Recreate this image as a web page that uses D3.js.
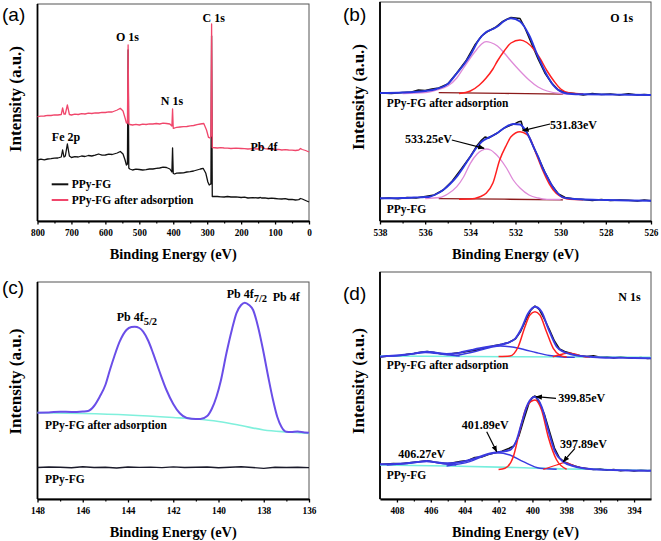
<!DOCTYPE html>
<html><head><meta charset="utf-8">
<script src="https://cdn.jsdelivr.net/npm/d3@7"></script>
<style>body{margin:0;background:#fff}svg{display:block}</style>
</head><body>
<svg id="chart" width="661" height="541"></svg>
<script>
// ---------- DATA ----------
// (a) survey spectra  [binding energy eV, intensity a.u.]
const surveyTicks = [800,700,600,500,400,300,200,100,0];
const surveyMinor = [750,650,550,450,350,250,150,50];
const surveyBlack = [[800,61],[790,61.8],[780,61.2],[770,62],[760,62.3],[750,62.8],[740,63],[730,64],[726,71],[722,64],[718,65],[712,77],[706,65],[700,63.5],[690,64.3],[680,64],[670,65],[660,64.5],[650,65.5],[640,65],[630,65.8],[620,67],[610,65.8],[600,66],[590,66.8],[580,66.5],[565,68],[556,69.5],[548,67],[542,61],[538,56],[535,57],[533,171],[531,53],[528,52],[520,51],[510,51.8],[500,51.5],[490,51],[480,51.3],[470,52],[460,52],[450,52.6],[440,53],[430,53.8],[420,53.5],[410,52],[404,49],[402,73],[400,47.5],[396,47],[390,47.8],[380,48],[370,48.2],[360,49],[350,49.3],[340,50],[330,51],[320,52],[312,52.7],[304,47.7],[298,39],[294,36],[290,37],[289,37],[287,185],[285,24.5],[270,24.5],[260,24.2],[250,24],[240,24.5],[230,24],[215,24.2],[200,23.5],[190,23.8],[180,23],[165,23.4],[150,23],[143,23.5],[140,23],[130,23.2],[120,22.5],[110,22.8],[100,22.5],[90,22.2],[80,22],[70,22.3],[60,21.5],[50,21.6],[40,21],[30,21.4],[25,22.5],[20,22],[10,20.5],[0,19]];
const surveyRed = [[800,104.3],[790,104.8],[780,105],[770,105.6],[760,105.5],[750,106.2],[740,106],[730,106.5],[726,113],[722,107],[718,107],[712,116],[706,106.5],[700,106],[690,106.8],[680,106.5],[670,107.3],[660,107],[650,107.8],[640,107.5],[630,108.2],[620,108],[610,108.7],[600,108.5],[590,109.2],[580,109],[565,111],[556,112.7],[548,110],[542,103],[538,98],[535,98],[533,176],[531,97],[528,96.5],[520,96],[510,96.6],[500,96],[490,96.8],[480,96.5],[470,97.2],[460,97],[450,97.5],[440,97],[430,97.8],[420,97.5],[410,97],[404,95],[402,112],[400,92.7],[396,93],[390,93.6],[380,94],[370,94.4],[360,94.5],[350,95.2],[340,95.5],[330,96.4],[320,97],[310,97.5],[302,91],[296,83.5],[292,83],[289,85],[287,197],[285,73.5],[270,73],[260,73.3],[250,73],[240,72.8],[230,72.5],[215,72.8],[200,72.5],[190,72.3],[180,72],[165,72.3],[150,72],[145,73.3],[143,75],[140,74],[130,72.3],[120,72],[110,71.8],[100,71.5],[90,71.6],[80,71],[70,71.3],[60,71],[50,70.8],[40,70.5],[30,71],[25,72.5],[20,71.5],[10,70.5],[0,69]];
const surveySeries = ["PPy-FG","PPy-FG after adsorption"];

// (b) O 1s
const o1sTicks = [538,536,534,532,530,528,526];
const o1sMinor = [537,535,533,531,529,527];
const o1sUpData = [[538,128],[537.5,127.5],[537,128.5],[536.6,129],[536.3,131],[536,130.5],[535.7,132],[535.4,133],[535,137],[534.6,148],[534.2,160],[533.8,176],[533.5,185],[533.2,190],[532.9,193.5],[532.6,199],[532.4,201.5],[532.2,203.5],[532,203],[531.8,202.5],[531.6,194],[531.3,178],[531,162],[530.7,148],[530.4,138],[530.1,131],[529.8,128.5],[529.4,127.5],[529,126],[528.6,127.5],[528.2,126.5],[527.8,127],[527.4,126],[527,127.3],[526.6,126],[526.3,126.5],[526,126]];
const o1sUpFit = [[538,128],[537,128.5],[536.5,129],[536,130],[535.5,132],[535,137],[534.6,147.7],[534.3,156],[534,166],[533.6,182],[533.3,189],[533,192],[532.8,194.5],[532.5,200],[532.2,202.7],[531.8,199.5],[531.4,186],[531,164.3],[530.6,145.5],[530.3,135],[529.9,128.5],[529.5,127],[529,126.7],[528,126.5],[527,126.2],[526,126]];
const o1sUpC1 = [[537,127.5],[536,128.5],[535.5,131],[535,135],[534.6,143],[534.3,153],[534,163],[533.7,172],[533.5,177],[533.3,179.3],[533.1,178.5],[532.8,175],[532.5,168],[532.2,160],[531.8,150],[531.4,141],[531,134],[530.6,130],[530,127.5],[529.5,127]];
const o1sUpC2 = [[534.5,127.5],[534,130],[533.6,136],[533.3,143],[533,152],[532.8,160],[532.5,170],[532.2,178],[531.8,181],[531.5,178.5],[531.2,172],[530.9,162],[530.6,150],[530.3,140],[530,132],[529.6,128],[529,127]];
const o1sUpBase = [[535.4,128.3],[532.5,127.6],[529.9,126.8]];
const o1sLoData = [[538,22.5],[537.6,23],[537.2,22.3],[536.8,23.5],[536.4,23],[536,24.5],[535.6,26],[535.2,31],[534.8,40],[534.4,52],[534,64.5],[533.7,75.5],[533.5,81],[533.35,84],[533.2,83],[533,85.5],[532.8,88],[532.5,93],[532.2,96],[532,97.5],[531.85,99.3],[531.75,99.8],[531.65,91],[531.5,89],[531.3,79],[531,64],[530.7,49],[530.4,36],[530.1,27],[529.8,23.5],[529.4,22],[529,21.5],[528.6,20.5],[528.2,21.5],[527.8,20.5],[527.4,21],[527,20.8],[526.6,20],[526.3,21],[526,20.3]];
const o1sLoFit = [[538,22.7],[537,23],[536.5,23.5],[536,24],[535.8,24.3],[535.5,27],[535.2,31],[534.9,37],[534.6,44.3],[534.3,54],[534,64.3],[533.7,74],[533.5,79.3],[533.1,84.3],[532.8,88],[532.5,93],[532.1,97],[531.8,96.5],[531.6,92],[531.4,84.3],[531.2,74],[531,64.3],[530.8,53],[530.6,44.3],[530.4,36],[530.2,29.5],[529.9,23.7],[529.5,22.3],[529.1,21.7],[528,21],[527,20.5],[526,20.3]];
const o1sLoC1 = [[536,22.5],[535.35,23.5],[535,27],[534.6,34.3],[534.3,44],[534,57.7],[533.7,67],[533.5,70.5],[533.3,72],[533.1,71],[532.9,67.5],[532.7,62.7],[532.4,53],[532.1,41],[531.8,33],[531.4,26],[531,23],[530.6,21.7],[530,21.5]];
const o1sLoC2 = [[534.5,21.8],[534,22],[533.6,24],[533.3,27.7],[533,38],[532.7,61],[532.4,76],[532.2,84.3],[531.8,89.3],[531.5,86.5],[531.36,82.7],[531.1,68],[530.8,51],[530.5,37],[530.2,27.7],[529.9,23.5],[529.6,21.7],[529,21.3]];
const o1sLoBase = [[535.4,22.3],[532.5,21.8],[529.9,21.2]];
const o1sPeaks = ["533.25eV","531.83eV"];

// (c) Pb 4f
const pbTicks = [148,146,144,142,140,138,136];
const pbMinor = [147,145,143,141,139,137];
const pbFit = [[148,86.3],[147.5,86.5],[147,87.3],[146.5,87],[146,87.5],[145.77,88],[145.5,93],[145.25,102.3],[145,114],[144.8,129],[144.6,143],[144.37,157.3],[144.07,169],[143.85,172],[143.7,172.3],[143.5,171],[143.33,167.3],[143.1,158],[142.89,145.7],[142.6,127],[142.3,109],[142,95],[141.71,85.7],[141.4,81],[141,80],[140.8,80],[140.5,83],[140.3,90],[140.09,102.3],[139.9,118],[139.65,145.7],[139.4,170],[139.21,185.7],[139,194],[138.84,196.3],[138.65,194],[138.47,189],[138.25,172],[138.03,149],[137.8,122],[137.59,99],[137.4,82],[137.22,72.3],[137,67.3],[136.8,67],[136.5,67.5],[136.2,66.5],[136,66.3]];
const pbBase = [[148,86.3],[146,85.5],[144,84],[142,81.5],[141,80],[140,77.5],[139,73.5],[138,69],[137,67],[136,65.7]];
const pbBlack = [[148,31.5],[147.5,32],[147,31.7],[146.5,31.2],[146,32.2],[145.5,31.5],[145,31.8],[144.5,31],[144,32],[143.5,31.6],[143,31.9],[142.5,31.4],[142,32.1],[141.5,31.5],[141,31.8],[140.5,32],[140,31.3],[139.5,31.7],[139,32.2],[138.5,31.5],[138,30.6],[137.5,31.8],[137,31.5],[136.5,31.7],[136,31.4]];

// (d) N 1s
const n1sTicks = [408,406,404,402,400,398,396,394];
const n1sMinor = [407,405,403,401,399,397,395];
const n1sUpData = [[409,142],[408.6,142.8],[408.2,143.3],[407.8,143],[407.4,144.8],[407,145.5],[406.6,146.8],[406.2,147.6],[405.8,146.5],[405.4,145.3],[405,144.6],[404.6,145.8],[404.2,146.5],[403.8,147.8],[403.4,148.5],[403,150.2],[402.6,152],[402.2,153.6],[401.8,154.8],[401.4,156.5],[401,160.2],[400.7,167.5],[400.4,178.5],[400.1,188.8],[399.85,193],[399.6,189.5],[399.3,180],[399,169.5],[398.7,158],[398.4,150],[398.1,147.5],[397.8,146],[397.5,144.5],[397.2,143.2],[396.8,142.5],[396.4,143.2],[396,141.8],[395.6,142.2],[395.2,141],[394.8,142],[394.4,141.3],[394,140.8],[393.6,141.5],[393.2,140.5],[393,140.8]];
const n1sUpFit = [[409,142.3],[408.6,143],[408,143.5],[407.4,144.5],[406.8,146],[406.25,147.3],[405.7,146.3],[405.07,145],[404.5,145.5],[404.08,147.3],[403.6,149],[403.1,150.7],[402.5,152.5],[402.1,153.5],[401.5,156],[401,160.7],[400.64,170.7],[400.25,185.7],[399.85,192.3],[399.46,187.3],[399.07,170.7],[398.57,152.3],[398.18,147.3],[397.78,145],[397.39,143.5],[396.6,142.3],[396,141.5],[395,141.2],[394,141],[393,140.7]];
const n1sUpMain = [[402,142.5],[401.33,143],[400.84,152.3],[400.44,172.3],[400.15,184],[399.85,187.3],[399.56,184],[399.17,167.3],[398.77,150.7],[398.37,143.7],[397.98,142]];
const n1sUpBroad = [[404.5,143.5],[403.5,147],[402.5,151.5],[401.9,153],[401.2,152],[400.5,149.5],[399.8,146.5],[399,143.5],[398.2,142],[397.5,141.6]];
const n1sUpHigh = [[408.5,142.8],[407.5,144],[406.3,146.5],[405.2,144.5],[404.3,143]];
const n1sUpLow = [[398.8,142.2],[398.2,145],[397.9,146],[397.5,145],[397,142.5],[396.6,141.8]];
const n1sUpBase = [[409,143],[401,142.2],[393,141.7]];
const n1sLoData = [[409,34.5],[408.6,35],[408.2,35.5],[407.8,35.2],[407.4,36],[407,36.8],[406.6,37.5],[406.2,38.2],[405.8,37],[405.4,36],[405,35.2],[404.6,36.5],[404.2,37.8],[403.8,38.5],[403.4,41.5],[403,42],[402.6,44.5],[402.2,46.2],[401.8,47.8],[401.4,50.5],[401.1,53],[400.8,63],[400.5,80],[400.2,96],[400,101.5],[399.85,103],[399.6,97],[399.3,85],[399,68],[398.7,51],[398.4,41],[398.1,37],[397.8,34.8],[397.5,33],[397.2,31.5],[396.8,30.5],[396.4,29.5],[396,30],[395.6,28.8],[395.2,29.5],[394.8,28.3],[394.4,29],[394,28],[393.6,28.8],[393.2,28.2],[393,28.5]];
const n1sLoFit = [[409,34.7],[408.2,35],[407.43,35.7],[406.8,37],[406.25,38],[405.6,36.5],[405.07,35.7],[404.6,36],[404.08,37.3],[403.6,39.5],[403.1,42.3],[402.51,45.7],[401.92,47],[401.33,49],[400.93,59],[400.64,75.7],[400.25,95.7],[399.85,102.3],[399.46,92.3],[399.07,69],[398.67,47.3],[398.18,37.3],[397.59,33],[396.6,30],[395.23,29],[393,28.3]];
const n1sLoMain = [[402,29.5],[401.62,30.7],[401.13,42.3],[400.74,69],[400.34,92.3],[399.85,99],[399.46,89],[399.07,62.3],[398.57,39],[397.98,29.7]];
const n1sLoBroad = [[405.07,33],[403.7,37.3],[402.71,44],[402.11,46.3],[401.33,44],[400.54,37.3],[399.56,30.7],[398.57,29.7]];
const n1sLoHigh = [[408.6,34],[407.4,35.5],[406.25,37.3],[405.1,35],[404.5,34]];
const n1sLoLow = [[399.36,29.7],[398.57,34],[398.08,36.3],[397.39,32.3],[396.6,29.7]];
const n1sLoBase = [[409,34],[405,33],[401,31.5],[398,30],[396.6,29.7],[393,28.5]];
const n1sPeaks = ["406.27eV","401.89eV","399.85eV","397.89eV"];

// annotation arrows [fromEnergy, fromInt, toEnergy, toInt]
const o1sArrows = [[534.82,81,533.39,72.7],[530.47,97,531.68,90.3]];
const n1sArrows = [[402.7,67.3,402.11,47.3],[398.61,100.7,399.79,102.3],[397.49,50.7,398.18,37.3]];

// ---------- DRAW ----------
const SERIF = "'Liberation Serif','Times New Roman',serif";
const SANS = "'Liberation Sans',Arial,sans-serif";
const svg = d3.select('#chart');
svg.append('rect').attr('width',661).attr('height',541).attr('fill','#fff');
svg.append('defs').append('marker').attr('id','ah').attr('viewBox','0 0 10 10')
  .attr('refX',9).attr('refY',5).attr('markerWidth',5.5).attr('markerHeight',5.5)
  .attr('orient','auto').attr('markerUnits','strokeWidth')
  .append('path').attr('d','M0,1 L10,5 L0,9 z').attr('fill','#000');

function text(x, y, s, o={}) {
  const t = svg.append('text').attr('x',x).attr('y',y)
    .attr('font-family', o.family || SERIF)
    .attr('font-weight', o.weight || 'bold')
    .attr('font-size', o.size || 12)
    .attr('text-anchor', o.anchor || 'start')
    .attr('fill','#000').text(s);
  if (o.len) t.attr('textLength',o.len).attr('lengthAdjust','spacingAndGlyphs');
  return t;
}

function panel(p) {
  const x = d3.scaleLinear().domain(p.xd).range([p.left, p.right]);
  const y = d3.scaleLinear().domain(p.yd).range([p.bottom, p.top]);
  const g = svg.append('g');
  g.append('rect').attr('x',p.left).attr('y',p.top).attr('width',p.right-p.left)
    .attr('height',p.bottom-p.top).attr('fill','none').attr('stroke','#555').attr('stroke-width',1);
  const minor = g.append('g').attr('transform',`translate(0,${p.bottom})`)
    .call(d3.axisBottom(x).tickValues(p.minor).tickSize(2.5).tickFormat(''));
  minor.select('.domain').remove();
  minor.selectAll('.tick line').attr('stroke','#000').attr('stroke-width',1.2);
  const ax = g.append('g').attr('transform',`translate(0,${p.bottom})`)
    .call(d3.axisBottom(x).tickValues(p.ticks).tickSize(3.5).tickSizeOuter(0).tickFormat(d3.format('d')));
  ax.select('.domain').attr('stroke','#000').attr('stroke-width',1.8);
  ax.selectAll('.tick line').attr('stroke','#000').attr('stroke-width',1.3);
  ax.selectAll('.tick text').attr('font-family',SERIF).attr('font-weight','bold')
    .attr('font-size',10.8).attr('y',7.6).attr('fill','#000').attr('transform','scale(0.86,1)');
  g.append('line').attr('x1',p.left).attr('x2',p.left).attr('y1',p.top).attr('y2',p.bottom)
    .attr('stroke','#000').attr('stroke-width',1.8);
  // titles
  text((p.left+p.right)/2, p.bottom+37.5, 'Binding Energy (eV)', {anchor:'middle', size:15.5, len:127});
  svg.append('text').attr('transform',`translate(${p.left-16.5},${p.ycen}) rotate(-90)`)
    .attr('font-family',SERIF).attr('font-weight','bold').attr('font-size',16)
    .attr('text-anchor','middle').attr('textLength',106).attr('lengthAdjust','spacingAndGlyphs')
    .text('Intensity (a.u.)');
  const draw = (data, color, w, curve) => g.append('path').datum(data)
    .attr('d', d3.line().x(d=>x(d[0])).y(d=>y(d[1])).curve(curve || d3.curveLinear))
    .attr('fill','none').attr('stroke',color).attr('stroke-width',w).attr('stroke-linejoin','round');
  const arrow = a => g.append('line').attr('x1',x(a[0])).attr('y1',y(a[1])).attr('x2',x(a[2])).attr('y2',y(a[3]))
    .attr('stroke','#000').attr('stroke-width',1.2).attr('marker-end','url(#ah)');
  return {x, y, g, draw, arrow};
}

// (a)
const A = panel({left:37.5,right:309,top:4,bottom:221,xd:[800,0],yd:[0,217],ticks:surveyTicks,minor:surveyMinor,ycen:99});
const RED_A = '#f0466b';
A.draw(surveyBlack,'#111',1.3);
A.draw(surveyRed,RED_A,1.3);
text(2,21,'(a)',{family:SANS,weight:'normal',size:19});
text(127.5,40.5,'O 1s',{anchor:'middle'});
text(213.7,21.5,'C 1s',{anchor:'middle'});
text(172,105,'N 1s',{anchor:'middle'});
text(66,141,'Fe 2p',{anchor:'middle'});
text(264,151,'Pb 4f',{anchor:'middle'});
[[ '#111', 184.3, 188],[RED_A, 200, 204]].forEach((l,i)=>{
  svg.append('line').attr('x1',51.7).attr('x2',68.3).attr('y1',l[1]).attr('y2',l[1]).attr('stroke',l[0]).attr('stroke-width',2);
  text(71.7,l[2],surveySeries[i],{size:11.5});
});

// (b)
const B = panel({left:380,right:651,top:2,bottom:221,xd:[538,526],yd:[0,219],ticks:o1sTicks,minor:o1sMinor,ycen:97});
const BLUE='#2a36dd', RED='#ff2020', PINK='#de8ad8', BROWN='#8b1a1a';
const sm = d3.curveMonotoneX;
B.draw(o1sUpBase,BROWN,1.3); B.draw(o1sLoBase,BROWN,1.3);
B.draw(o1sUpData,'#111',1.5); B.draw(o1sLoData,'#111',1.5);
B.draw(o1sUpC1,PINK,1.3,sm); B.draw(o1sLoC1,PINK,1.3,sm);
B.draw(o1sUpC2,RED,1.5,sm); B.draw(o1sLoC2,RED,1.5,sm);
B.draw(o1sUpFit,BLUE,1.9,sm); B.draw(o1sLoFit,BLUE,1.9,sm);
o1sArrows.forEach(B.arrow);
text(343,21,'(b)',{family:SANS,weight:'normal',size:19});
text(621.7,21.5,'O 1s',{anchor:'middle'});
text(386.7,107,'PPy-FG after adsorption',{size:11.5});
text(386.7,213,'PPy-FG',{size:11.5});
text(405,143,o1sPeaks[0],{size:12});
text(550,129,o1sPeaks[1],{size:12});

// (c)
const C = panel({left:37.5,right:309,top:282,bottom:499,xd:[148,136],yd:[0,217],ticks:pbTicks,minor:pbMinor,ycen:381.5});
C.draw(pbBlack,'#1a1a2a',1.4);
C.draw(pbBase,'#80f0dc',1.7,sm);
C.draw(pbFit,'#6a4ee8',2,sm);
text(2,294,'(c)',{family:SANS,weight:'normal',size:19});
function pbLabel(x0,yb,sub){
  const t = text(x0,yb,'Pb 4f',{size:12});
  t.append('tspan').attr('dy',4).attr('font-size',10.5).text(sub);
}
pbLabel(116.7,320.5,'5/2');
pbLabel(226.7,298,'7/2');
text(272.7,301,'Pb 4f',{size:12});
text(45,429,'PPy-FG after adsorption',{size:11.5});
text(45,483,'PPy-FG',{size:11.5});

// (d)
const D = panel({left:380,right:651,top:272,bottom:499,xd:[409,393],yd:[0,227],ticks:n1sTicks,minor:n1sMinor,ycen:381});
const CY='#77eedd', BL='#3a3ae0';
D.draw(n1sUpData,'#111',1.5); D.draw(n1sLoData,'#111',1.5);
D.draw(n1sUpBase,CY,1.6); D.draw(n1sLoBase,CY,1.6,sm);
D.draw(n1sUpHigh,BL,1.3,sm); D.draw(n1sLoHigh,BL,1.3,sm);
D.draw(n1sUpBroad,BL,1.4,sm); D.draw(n1sLoBroad,BL,1.4,sm);
D.draw(n1sUpLow,RED,1.3,sm); D.draw(n1sLoLow,RED,1.3,sm);
D.draw(n1sUpMain,RED,1.5,sm); D.draw(n1sLoMain,RED,1.5,sm);
D.draw(n1sUpFit,BL,1.9,sm); D.draw(n1sLoFit,BL,1.9,sm);
n1sArrows.forEach(D.arrow);
text(343,300,'(d)',{family:SANS,weight:'normal',size:19});
text(618.3,300.5,'N 1s',{size:12});
text(386.7,369,'PPy-FG after adsorption',{size:11.5});
text(386.7,479,'PPy-FG',{size:11.5});
text(398.3,458,n1sPeaks[0],{size:12});
text(461.7,429,n1sPeaks[1],{size:12});
text(558.3,402,n1sPeaks[2],{size:12});
text(560,447.5,n1sPeaks[3],{size:12});
</script>
</body></html>
